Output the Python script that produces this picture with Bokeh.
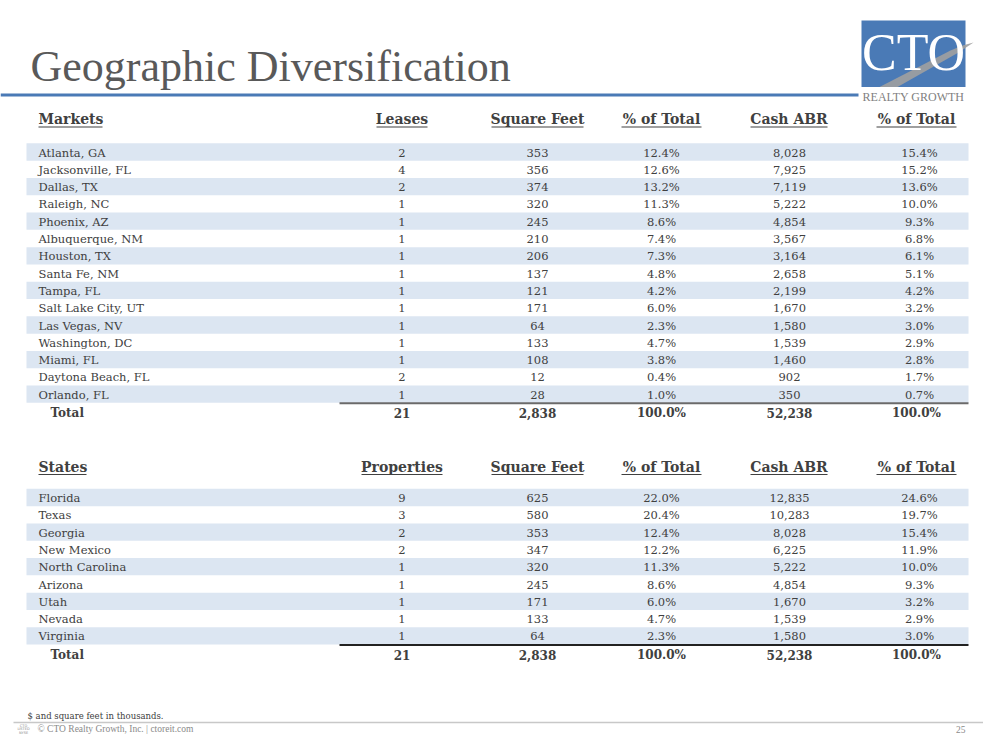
from bokeh.plotting import figure
from bokeh.models import Range1d, ColumnDataSource
from bokeh.core.properties import value
from bokeh.embed import file_html
from bokeh.resources import INLINE

# ---------------- data ----------------
title = "Geographic Diversification"

market_headers = ["Markets", "Leases", "Square Feet", "% of Total", "Cash ABR", "% of Total"]
markets = ["Atlanta, GA", "Jacksonville, FL", "Dallas, TX", "Raleigh, NC", "Phoenix, AZ",
           "Albuquerque, NM", "Houston, TX", "Santa Fe, NM", "Tampa, FL", "Salt Lake City, UT",
           "Las Vegas, NV", "Washington, DC", "Miami, FL", "Daytona Beach, FL", "Orlando, FL"]
market_leases = [2, 4, 2, 1, 1, 1, 1, 1, 1, 1, 1, 1, 1, 2, 1]
market_sqft = [353, 356, 374, 320, 245, 210, 206, 137, 121, 171, 64, 133, 108, 12, 28]
market_sqft_pct = [12.4, 12.6, 13.2, 11.3, 8.6, 7.4, 7.3, 4.8, 4.2, 6.0, 2.3, 4.7, 3.8, 0.4, 1.0]
market_abr = [8028, 7925, 7119, 5222, 4854, 3567, 3164, 2658, 2199, 1670, 1580, 1539, 1460, 902, 350]
market_abr_pct = [15.4, 15.2, 13.6, 10.0, 9.3, 6.8, 6.1, 5.1, 4.2, 3.2, 3.0, 2.9, 2.8, 1.7, 0.7]
market_total = [21, 2838, 100.0, 52238, 100.0]

state_headers = ["States", "Properties", "Square Feet", "% of Total", "Cash ABR", "% of Total"]
states = ["Florida", "Texas", "Georgia", "New Mexico", "North Carolina", "Arizona", "Utah",
          "Nevada", "Virginia"]
state_props = [9, 3, 2, 2, 1, 1, 1, 1, 1]
state_sqft = [625, 580, 353, 347, 320, 245, 171, 133, 64]
state_sqft_pct = [22.0, 20.4, 12.4, 12.2, 11.3, 8.6, 6.0, 4.7, 2.3]
state_abr = [12835, 10283, 8028, 6225, 5222, 4854, 1670, 1539, 1580]
state_abr_pct = [24.6, 19.7, 15.4, 11.9, 10.0, 9.3, 3.2, 2.9, 3.0]
state_total = [21, 2838, 100.0, 52238, 100.0]

footnote = "$ and square feet in thousands."
copyright_text = "\u00a9 CTO Realty Growth, Inc. | ctoreit.com"
page_number = "25"

# ---------------- layout / style ----------------
W, H = 983, 734
SERIF = "DejaVu Serif"
TXT = "#404040"
BAND = "#dce6f2"
BLUE = "#4a7ab6"
ROW_H = 17.3
LABEL_X = 38
TOTAL_X = 50
COL_X = [401.5, 537, 661, 789, 919]
HEAD_X = [401.5, 537, 661, 788.5, 916]
BAND_L, BAND_R = 26, 968
RULE_L = 339

p = figure(width=W, height=H, output_backend="svg", toolbar_location=None,
           x_range=Range1d(0, W), y_range=Range1d(H, 0),
           min_border=0, background_fill_color="white", border_fill_color="white")
p.axis.visible = False
p.grid.visible = False
p.outline_line_color = None

# title + rule
p.text(x=[30], y=[66], text=[title], text_font=value("Liberation Serif"),
       text_font_size="44px", text_color="#595959", text_baseline="middle", text_align="left")
p.segment(x0=[0], y0=[94.5], x1=[858], y1=[94.5], line_color=BLUE, line_width=3)

# logo
p.quad(left=[861], right=[965], top=[20], bottom=[86.5], fill_color=BLUE, line_color=None)
p.patch(x=[879, 897, 958, 973, 962, 950], y=[86.5, 86.5, 52, 42, 45, 50],
        fill_color="#a0a0a0", line_color=None, fill_alpha=0.9)
p.text(x=[913], y=[52], text=["CTO"], text_font=value("Liberation Serif"),
       text_font_size="52px", text_color="white", text_align="center", text_baseline="middle")
p.text(x=[913], y=[96], text=["REALTY GROWTH"], text_font=value("Liberation Serif"),
       text_font_size="12px", text_color="#7f7f7f", text_align="center", text_baseline="middle")


def fmt_cols(cols):
    a, b, c, d, e = cols
    return [f"{a:,}", f"{b:,}", f"{c:.1f}%", f"{d:,}", f"{e:.1f}%"]


def draw_table(headers, labels, c1, c2, c3, c4, c5, total, head_y, first_y, head_widths, rule_color):
    n = len(labels)
    centers = [first_y + i * ROW_H for i in range(n)]
    # bands
    bi = [i for i in range(n) if i % 2 == 0]
    p.quad(left=[BAND_L] * len(bi), right=[BAND_R] * len(bi),
           top=[centers[i] - ROW_H / 2 for i in bi], bottom=[centers[i] + ROW_H / 2 for i in bi],
           fill_color=BAND, line_color=None)
    # headers
    hx = [LABEL_X] + HEAD_X
    aligns = ["left"] + ["center"] * 5
    for x, h, al, w in zip(hx, headers, aligns, head_widths):
        p.text(x=[x], y=[head_y], text=[h], text_font=value(SERIF), text_font_style="bold",
               text_font_size="14px", text_color=TXT, text_align=al, text_baseline="middle")
        x0 = x if al == "left" else x - w / 2
        p.segment(x0=[x0], y0=[head_y + 8], x1=[x0 + w], y1=[head_y + 8],
                  line_color=TXT, line_width=1.2)
    # labels
    src = ColumnDataSource(dict(y=[c + 0.5 for c in centers], lab=labels))
    p.text(x=LABEL_X, y="y", text="lab", source=src, text_font=value(SERIF),
           text_font_size="11.5px", text_color=TXT, text_align="left", text_baseline="middle")
    cols = [[f"{v:,}" for v in c1], [f"{v:,}" for v in c2], [f"{v:.1f}%" for v in c3],
            [f"{v:,}" for v in c4], [f"{v:.1f}%" for v in c5]]
    for x, col in zip(COL_X, cols):
        s = ColumnDataSource(dict(y=[c + 0.5 for c in centers], t=col))
        p.text(x=x, y="y", text="t", source=s, text_font=value(SERIF),
               text_font_size="11.5px", text_color=TXT, text_align="center", text_baseline="middle")
    # rule + total
    rule_y = centers[-1] + ROW_H / 2 + 0.5
    p.segment(x0=[RULE_L], y0=[rule_y], x1=[BAND_R], y1=[rule_y], line_color=rule_color, line_width=2)
    ty = rule_y + 10
    p.text(x=[TOTAL_X], y=[ty], text=["Total"], text_font=value(SERIF), text_font_style="bold",
           text_font_size="12px", text_color=TXT, text_align="left", text_baseline="middle")
    for x, t in zip(COL_X, fmt_cols(total)):
        p.text(x=[x - 3 if t.endswith("%") and x > 900 else x], y=[ty], text=[t],
               text_font=value(SERIF), text_font_style="bold",
               text_font_size="12px", text_color=TXT, text_align="center", text_baseline="middle")


draw_table(market_headers, markets, market_leases, market_sqft, market_sqft_pct, market_abr,
           market_abr_pct, market_total, head_y=118.5, first_y=151.5,
           head_widths=[64, 51, 92, 80, 77, 80], rule_color="#6a6a6a")
draw_table(state_headers, states, state_props, state_sqft, state_sqft_pct, state_abr,
           state_abr_pct, state_total, head_y=466, first_y=497,
           head_widths=[48, 81, 92, 80, 77, 80], rule_color="#222222")

# footer
p.text(x=[27], y=[715.5], text=[footnote], text_font=value(SERIF), text_font_size="8.5px",
       text_color="#404040", text_align="left", text_baseline="middle")
p.segment(x0=[13], y0=[722], x1=[983], y1=[722], line_color="#c8c8c8", line_width=1.5)
p.text(x=[37], y=[728.5], text=[copyright_text], text_font=value("Liberation Serif"),
       text_font_size="9.5px", text_color="#8a8a8a", text_align="left", text_baseline="middle")
p.text(x=[965], y=[728.5], text=[page_number], text_font=value("Liberation Serif"),
       text_font_size="9.5px", text_color="#8a8a8a", text_align="right", text_baseline="middle")
p.text(x=[23, 23, 23], y=[725.5, 728.8, 732], text=["CTO", "LISTED", "NYSE"],
       text_font=value("DejaVu Sans"), text_font_size="3.5px", text_color="#8a8a8a",
       text_align="center", text_baseline="middle")

open("out.html", "w").write(file_html(p, INLINE))
